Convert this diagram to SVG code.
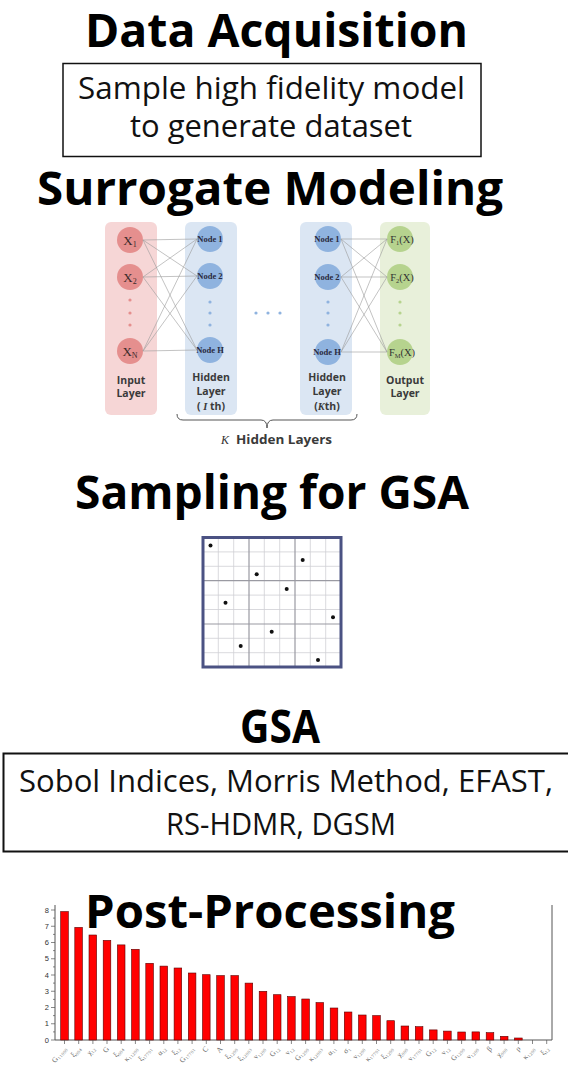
<svg xmlns="http://www.w3.org/2000/svg" width="568" height="1069" viewBox="0 0 568 1069">
<style>
.title{font-family:"Open Sans","Noto Sans",sans-serif;font-weight:bold;font-size:46px;fill:#000}
.body{font-family:"Open Sans","Noto Sans",sans-serif;font-size:31px;fill:#111}
.lay{font-family:"Open Sans","Noto Sans",sans-serif;font-weight:bold;font-size:10.5px;fill:#3a3a3a;text-anchor:middle}
.nd{font-family:"Liberation Serif",serif;font-size:8.5px;font-weight:bold;fill:#2a2a40;text-anchor:middle}
.xl{font-family:"Liberation Serif",serif;font-size:13px;fill:#3a2a2a;text-anchor:middle}
.fl{font-family:"Liberation Serif",serif;font-size:10.5px;fill:#333;text-anchor:middle}
.conn{stroke:#9a9a9a;stroke-width:0.6;fill:none}
.minor{stroke:#cfcfd4;stroke-width:0.8}
.major{stroke:#9a9aa2;stroke-width:1.2}
.bar{fill:#ff0000;stroke:#5a0000;stroke-width:0.6}
.ax{stroke:#555;stroke-width:1;fill:none}
.tk{stroke:#555;stroke-width:0.7}
.yl{font-family:"Liberation Sans",Arial,sans-serif;font-size:7.5px;fill:#333;text-anchor:end}
.xt{font-family:"Liberation Serif",serif;font-size:7.5px;fill:#666;text-anchor:end}
</style>

<g id="title-data-acquisition">
<text class="title" x="85" y="47" textLength="383" lengthAdjust="spacingAndGlyphs">Data Acquisition</text>
</g>
<g id="box-sample">
<rect x="63" y="63.5" width="418" height="93" fill="#fff" stroke="#111" stroke-width="1.5"/>
<text class="body" x="78" y="99" textLength="387" lengthAdjust="spacingAndGlyphs">Sample high fidelity model</text>
<text class="body" x="130" y="137" textLength="282" lengthAdjust="spacingAndGlyphs">to generate dataset</text>
</g>

<g id="title-surrogate">
<text class="title" x="37" y="205" textLength="466" lengthAdjust="spacingAndGlyphs">Surrogate Modeling</text>
</g>

<g id="nn">
<g id="input-layer">
<rect x="105" y="222" width="52" height="193" rx="6" fill="#f6d6d6"/>
<circle cx="130" cy="240" r="13" fill="#e58f8e"/>
<circle cx="130" cy="277" r="13" fill="#e58f8e"/>
<circle cx="130" cy="351" r="13" fill="#e58f8e"/>
<circle cx="130" cy="300" r="1.6" fill="#e58f8e"/>
<circle cx="130" cy="313" r="1.6" fill="#e58f8e"/>
<circle cx="130" cy="325" r="1.6" fill="#e58f8e"/>
<text class="xl" x="130" y="245">X<tspan font-size="8" dy="2">1</tspan></text>
<text class="xl" x="130" y="282">X<tspan font-size="8" dy="2">2</tspan></text>
<text class="xl" x="130" y="356">X<tspan font-size="8" dy="2">N</tspan></text>
<text class="lay" x="131" y="384">Input</text>
<text class="lay" x="131" y="397">Layer</text>
</g>
<g id="hidden-layer-1">
<rect x="185" y="222" width="52" height="193" rx="6" fill="#dbe6f3"/>
<circle cx="210" cy="239" r="13" fill="#8fb3df"/>
<circle cx="210" cy="276" r="13" fill="#8fb3df"/>
<circle cx="210" cy="350" r="13" fill="#8fb3df"/>
<circle cx="210" cy="302" r="1.6" fill="#8fb3df"/>
<circle cx="210" cy="313" r="1.6" fill="#8fb3df"/>
<circle cx="210" cy="325" r="1.6" fill="#8fb3df"/>
<text class="nd" x="210" y="242">Node 1</text>
<text class="nd" x="210" y="279">Node 2</text>
<text class="nd" x="210" y="353">Node H</text>
<text class="lay" x="211" y="381">Hidden</text>
<text class="lay" x="211" y="395">Layer</text>
<text class="lay" x="211" y="410">( <tspan font-family="Liberation Serif,serif" font-style="italic">I</tspan> th)</text>
</g>
<g id="ellipsis">
<circle cx="256" cy="313" r="1.6" fill="#8fb3df"/>
<circle cx="268" cy="313" r="1.6" fill="#8fb3df"/>
<circle cx="280" cy="313" r="1.6" fill="#8fb3df"/>
</g>
<g id="hidden-layer-k">
<rect x="300" y="222" width="52" height="193" rx="6" fill="#dbe6f3"/>
<circle cx="328" cy="239" r="13" fill="#8fb3df"/>
<circle cx="328" cy="277" r="13" fill="#8fb3df"/>
<circle cx="328" cy="352" r="13" fill="#8fb3df"/>
<circle cx="328" cy="302" r="1.6" fill="#8fb3df"/>
<circle cx="328" cy="313" r="1.6" fill="#8fb3df"/>
<circle cx="328" cy="325" r="1.6" fill="#8fb3df"/>
<text class="nd" x="327" y="242">Node 1</text>
<text class="nd" x="327" y="280">Node 2</text>
<text class="nd" x="327" y="355">Node H</text>
<text class="lay" x="327" y="381">Hidden</text>
<text class="lay" x="327" y="395">Layer</text>
<text class="lay" x="327" y="410">(<tspan font-family="Liberation Serif,serif" font-style="italic">K</tspan>th)</text>
</g>
<g id="output-layer">
<rect x="380" y="222" width="50" height="193" rx="6" fill="#e8f0da"/>
<circle cx="400" cy="239" r="13" fill="#b6d38e"/>
<circle cx="400" cy="277" r="13" fill="#b6d38e"/>
<circle cx="400" cy="352" r="13" fill="#b6d38e"/>
<circle cx="400" cy="302" r="1.6" fill="#b6d38e"/>
<circle cx="400" cy="313" r="1.6" fill="#b6d38e"/>
<circle cx="400" cy="325" r="1.6" fill="#b6d38e"/>
<text class="fl" x="402" y="243">F<tspan font-size="6.5" dy="1.5">1</tspan><tspan dy="-1.5">(X)</tspan></text>
<text class="fl" x="402" y="281">F<tspan font-size="6.5" dy="1.5">2</tspan><tspan dy="-1.5">(X)</tspan></text>
<text class="fl" x="402" y="356">F<tspan font-size="6.5" dy="1.5">M</tspan><tspan dy="-1.5">(X)</tspan></text>
<text class="lay" x="405" y="384">Output</text>
<text class="lay" x="405" y="397">Layer</text>
</g>
<g id="connectors">
<path class="conn" d="M143 240L197 239M143 240L197 276M143 240L197 350M143 277L197 239M143 277L197 276M143 277L197 350M143 351L197 239M143 351L197 276M143 351L197 350"/>
<path class="conn" d="M341 239L387 239M341 239L387 277M341 239L387 352M341 277L387 239M341 277L387 277M341 277L387 352M341 352L387 239M341 352L387 277M341 352L387 352"/>
</g>
<g id="brace">
<path d="M177 414Q177 420 183 420L261 420Q267 420 267 428Q267 420 273 420L351 420Q357 420 357 414" fill="none" stroke="#555" stroke-width="1"/>
<text x="221" y="444" font-family="Liberation Serif,serif" font-style="italic" font-size="12" fill="#333">K</text>
<text x="236" y="444" font-family="Open Sans,Noto Sans,sans-serif" font-weight="bold" font-size="11.5" fill="#3a3a3a" textLength="96" lengthAdjust="spacingAndGlyphs">Hidden Layers</text>
</g>
</g>

<g id="title-sampling">
<text class="title" x="75" y="509" textLength="394" lengthAdjust="spacingAndGlyphs">Sampling for GSA</text>
</g>

<g id="lhs-grid">
<rect x="203" y="537.5" width="138" height="129.5" fill="#fff"/>
<g class="minor">
<path d="M218.3 537.5V667M233.7 537.5V667M264.3 537.5V667M279.7 537.5V667M310.3 537.5V667M325.7 537.5V667"/>
<path d="M203 551.9H341M203 566.3H341M203 595.1H341M203 609.5H341M203 638.3H341M203 652.7H341"/>
</g>
<g class="major">
<path d="M249 537.5V667M295 537.5V667M203 580.7H341M203 624H341"/>
</g>
<rect x="203" y="537.5" width="138" height="129.5" fill="none" stroke="#4b5283" stroke-width="3"/>
<g fill="#111">
<circle cx="210.5" cy="545.5" r="2"/>
<circle cx="302.7" cy="560" r="2"/>
<circle cx="256.7" cy="574.3" r="2"/>
<circle cx="286.7" cy="589" r="2"/>
<circle cx="225.5" cy="602.7" r="2"/>
<circle cx="333" cy="617.3" r="2"/>
<circle cx="271.7" cy="631.7" r="2"/>
<circle cx="240.7" cy="646" r="2"/>
<circle cx="318" cy="660" r="2"/>
</g>
</g>

<g id="title-gsa">
<text class="title" x="240" y="743" textLength="80" lengthAdjust="spacingAndGlyphs">GSA</text>
</g>
<g id="box-gsa">
<rect x="3.5" y="753.5" width="570" height="98" fill="#fff" stroke="#111" stroke-width="2"/>
<text class="body" x="19" y="792" textLength="534" lengthAdjust="spacingAndGlyphs">Sobol Indices, Morris Method, EFAST,</text>
<text class="body" x="166" y="835" textLength="230" lengthAdjust="spacingAndGlyphs">RS-HDMR, DGSM</text>
</g>

<g id="chart">
<path class="ax" d="M55 905V1040H552V905"/>
<g class="tk">
<path d="M51 1040H55M51 1023.75H55M51 1007.5H55M51 991.25H55M51 975H55M51 958.75H55M51 942.5H55M51 926.25H55M51 910H55"/>
<path d="M53 1031.9H55M53 1015.6H55M53 999.4H55M53 983.1H55M53 966.9H55M53 950.6H55M53 934.4H55M53 918.1H55"/>
</g>
<g>
<text class="yl" x="49" y="1042.5">0</text>
<text class="yl" x="49" y="1026.3">1</text>
<text class="yl" x="49" y="1010">2</text>
<text class="yl" x="49" y="993.8">3</text>
<text class="yl" x="49" y="977.5">4</text>
<text class="yl" x="49" y="961.3">5</text>
<text class="yl" x="49" y="945">6</text>
<text class="yl" x="49" y="928.8">7</text>
<text class="yl" x="49" y="912.5">8</text>
</g>
<g id="bars">
<rect class="bar" x="60.7" y="911.6" width="7.6" height="128.4"/>
<rect class="bar" x="74.8" y="927.4" width="7.6" height="112.6"/>
<rect class="bar" x="89" y="935" width="7.6" height="105"/>
<rect class="bar" x="103.2" y="940.4" width="7.6" height="99.6"/>
<rect class="bar" x="117.4" y="944.9" width="7.6" height="95.1"/>
<rect class="bar" x="131.6" y="949.3" width="7.6" height="90.7"/>
<rect class="bar" x="145.8" y="963.3" width="7.6" height="76.7"/>
<rect class="bar" x="160" y="966.1" width="7.6" height="73.9"/>
<rect class="bar" x="174.1" y="968" width="7.6" height="72"/>
<rect class="bar" x="188.3" y="973" width="7.6" height="67"/>
<rect class="bar" x="202.5" y="974.7" width="7.6" height="65.3"/>
<rect class="bar" x="216.7" y="975.6" width="7.6" height="64.4"/>
<rect class="bar" x="230.9" y="975.6" width="7.6" height="64.4"/>
<rect class="bar" x="245.1" y="983.1" width="7.6" height="56.9"/>
<rect class="bar" x="259.2" y="991.3" width="7.6" height="48.7"/>
<rect class="bar" x="273.4" y="994.7" width="7.6" height="45.3"/>
<rect class="bar" x="287.6" y="996.6" width="7.6" height="43.4"/>
<rect class="bar" x="301.8" y="999" width="7.6" height="41"/>
<rect class="bar" x="316" y="1002.6" width="7.6" height="37.4"/>
<rect class="bar" x="330.2" y="1008" width="7.6" height="32"/>
<rect class="bar" x="344.3" y="1012" width="7.6" height="28"/>
<rect class="bar" x="358.5" y="1015" width="7.6" height="25"/>
<rect class="bar" x="372.7" y="1015.6" width="7.6" height="24.4"/>
<rect class="bar" x="386.9" y="1020.7" width="7.6" height="19.3"/>
<rect class="bar" x="401.1" y="1026" width="7.6" height="14"/>
<rect class="bar" x="415.3" y="1026.7" width="7.6" height="13.3"/>
<rect class="bar" x="429.5" y="1029.9" width="7.6" height="10.1"/>
<rect class="bar" x="443.6" y="1031.1" width="7.6" height="8.9"/>
<rect class="bar" x="457.8" y="1032" width="7.6" height="8"/>
<rect class="bar" x="472" y="1031.9" width="7.6" height="8.1"/>
<rect class="bar" x="486.2" y="1032.7" width="7.6" height="7.3"/>
<rect class="bar" x="500.4" y="1036.3" width="7.6" height="3.7"/>
<rect class="bar" x="514.6" y="1038" width="7.6" height="2"/>
</g>
<path class="tk" d="M64.5 1040V1044M78.7 1040V1044M92.9 1040V1044M107 1040V1044M121.2 1040V1044M135.4 1040V1044M149.6 1040V1044M163.8 1040V1044M177.9 1040V1044M192.1 1040V1044M206.3 1040V1044M220.5 1040V1044M234.7 1040V1044M248.8 1040V1044M263 1040V1044M277.2 1040V1044M291.4 1040V1044M305.6 1040V1044M319.8 1040V1044M333.9 1040V1044M348.1 1040V1044M362.3 1040V1044M376.5 1040V1044M390.7 1040V1044M404.8 1040V1044M419 1040V1044M433.2 1040V1044M447.4 1040V1044M461.6 1040V1044M475.8 1040V1044M489.9 1040V1044M504.1 1040V1044M518.3 1040V1044M532.5 1040V1044M546.7 1040V1044"/>
<g id="xlabels">
<text class="xt" transform="translate(67,1049) rotate(-50)">G₁₁₀₀₀</text>
<text class="xt" transform="translate(81.2,1049) rotate(-50)">ξ₀₀₄</text>
<text class="xt" transform="translate(95.4,1049) rotate(-50)">χ₁₂</text>
<text class="xt" transform="translate(109.5,1049) rotate(-50)">G</text>
<text class="xt" transform="translate(123.7,1049) rotate(-50)">ξ₀₀₄</text>
<text class="xt" transform="translate(137.9,1049) rotate(-50)">κ₁₁₂₀₀</text>
<text class="xt" transform="translate(152.1,1049) rotate(-50)">ξ₁₇₇₀₁</text>
<text class="xt" transform="translate(166.3,1049) rotate(-50)">α₁₂</text>
<text class="xt" transform="translate(180.4,1049) rotate(-50)">ξ₁₂</text>
<text class="xt" transform="translate(194.6,1049) rotate(-50)">G₁₇₇₀₁</text>
<text class="xt" transform="translate(208.8,1049) rotate(-50)">C</text>
<text class="xt" transform="translate(223,1049) rotate(-50)">A</text>
<text class="xt" transform="translate(237.2,1049) rotate(-50)">ξ₁₂₀₀</text>
<text class="xt" transform="translate(251.3,1049) rotate(-50)">ξ₁₂₀₀₃</text>
<text class="xt" transform="translate(265.5,1049) rotate(-50)">ν₁₂₀₀</text>
<text class="xt" transform="translate(279.7,1049) rotate(-50)">G₁₂</text>
<text class="xt" transform="translate(293.9,1049) rotate(-50)">ν₁₂</text>
<text class="xt" transform="translate(308.1,1049) rotate(-50)">G₁₂₀₀</text>
<text class="xt" transform="translate(322.3,1049) rotate(-50)">κ₁₂₀₀₃</text>
<text class="xt" transform="translate(336.4,1049) rotate(-50)">α₁₁</text>
<text class="xt" transform="translate(350.6,1049) rotate(-50)">σ₁</text>
<text class="xt" transform="translate(364.8,1049) rotate(-50)">ν₁₂₀₀</text>
<text class="xt" transform="translate(379,1049) rotate(-50)">κ₁₇₇₀₁</text>
<text class="xt" transform="translate(393.2,1049) rotate(-50)">ξ₁₂₀₀</text>
<text class="xt" transform="translate(407.3,1049) rotate(-50)">χ₀₀₀</text>
<text class="xt" transform="translate(421.5,1049) rotate(-50)">ν₁₇₇₀₁</text>
<text class="xt" transform="translate(435.7,1049) rotate(-50)">G₁₂</text>
<text class="xt" transform="translate(449.9,1049) rotate(-50)">ν₁₂</text>
<text class="xt" transform="translate(464.1,1049) rotate(-50)">G₁₂₀₀</text>
<text class="xt" transform="translate(478.3,1049) rotate(-50)">ν₁₂₀₀</text>
<text class="xt" transform="translate(492.4,1049) rotate(-50)">β</text>
<text class="xt" transform="translate(506.6,1049) rotate(-50)">χ₀₀₀</text>
<text class="xt" transform="translate(520.8,1049) rotate(-50)">ρ</text>
<text class="xt" transform="translate(535,1049) rotate(-50)">κ₁₂₀₀</text>
<text class="xt" transform="translate(549.2,1049) rotate(-50)">ξ₁₂</text>
</g>
</g>

<g id="title-post">
<text class="title" x="85" y="928" textLength="370" lengthAdjust="spacingAndGlyphs">Post-Processing</text>
</g>
</svg>
